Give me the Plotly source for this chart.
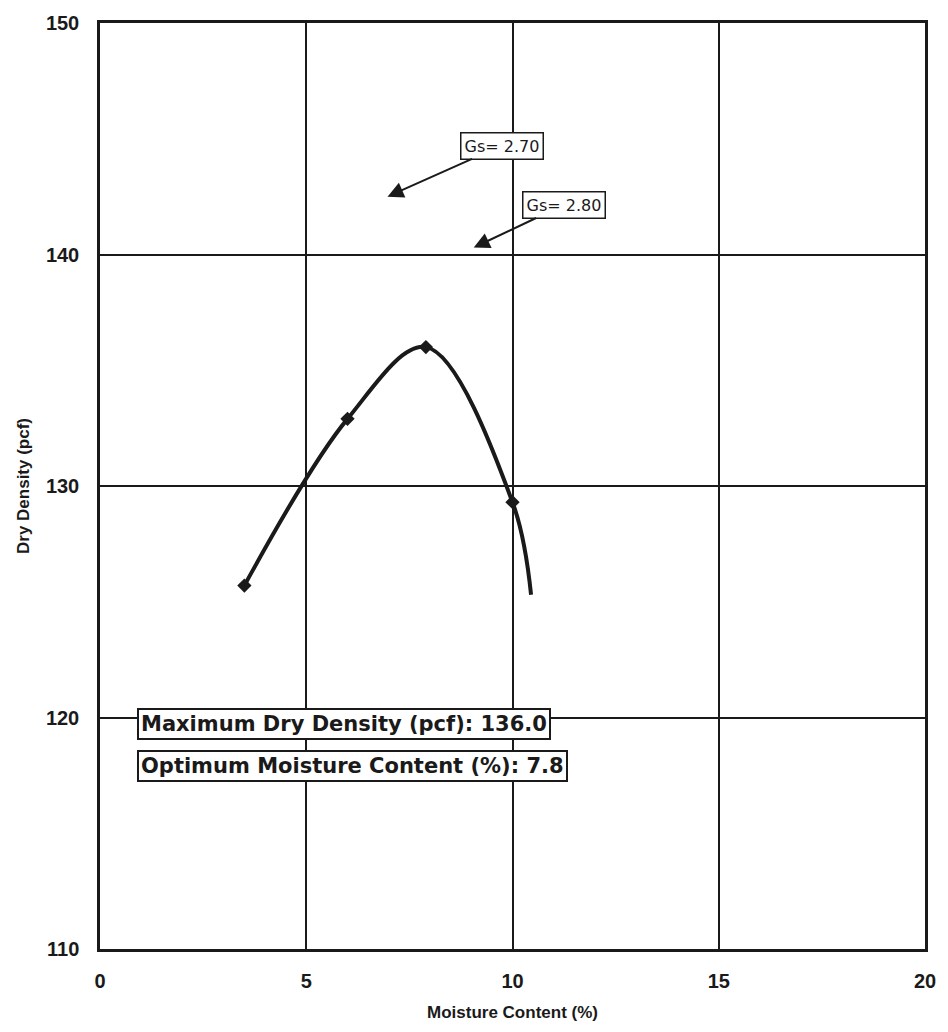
import plotly.graph_objects as go

# Data
pts_x = [3.5, 6.0, 7.9, 10.0]
pts_y = [125.7, 132.9, 136.0, 129.3]
curve_x = [3.5, 6.0, 7.9, 10.0, 10.45]
curve_y = [125.7, 132.9, 136.0, 129.3, 125.3]

x_ticks = [0, 5, 10, 15, 20]
y_ticks = [110, 120, 130, 140, 150]

gs_labels = ["Gs= 2.70", "Gs= 2.80"]
gs_target_x = [6.97, 9.06]
gs_target_y = [142.5, 140.3]
gs_label_x = [9.74, 11.25]
gs_label_y = [144.7, 142.15]

info_lines = ["Maximum Dry Density (pcf): 136.0", "Optimum Moisture Content (%): 7.8"]
info_x = [0.9, 0.9]
info_y = [119.7, 117.9]

FONT = "Liberation Sans, Arial, sans-serif"
WIDE = "DejaVu Sans, Liberation Sans, sans-serif"

fig = go.Figure()
fig.add_trace(go.Scatter(x=curve_x, y=curve_y, mode="lines",
                         line=dict(color="#1a1a1a", width=4, shape="spline", smoothing=1.0),
                         hoverinfo="skip", showlegend=False))
fig.add_trace(go.Scatter(x=pts_x, y=pts_y, mode="markers",
                         marker=dict(symbol="diamond", size=11, color="#1a1a1a"),
                         showlegend=False))

for t, tx, ty, lx, ly in zip(gs_labels, gs_target_x, gs_target_y, gs_label_x, gs_label_y):
    fig.add_annotation(x=tx, y=ty, ax=lx, ay=ly, xref="x", yref="y", axref="x", ayref="y",
                       text=t, showarrow=True, arrowhead=2, arrowsize=1.6, arrowwidth=2,
                       arrowcolor="#1a1a1a",
                       font=dict(family=WIDE, size=16, color="#1a1a1a"),
                       bgcolor="white", bordercolor="#1a1a1a", borderwidth=1.5, borderpad=3)

for t, ix, iy in zip(info_lines, info_x, info_y):
    fig.add_annotation(x=ix, y=iy, xref="x", yref="y", xanchor="left", yanchor="middle",
                       text=t, showarrow=False,
                       font=dict(family=WIDE, size=21, color="#1a1a1a", weight="bold"),
                       bgcolor="white", bordercolor="#1a1a1a", borderwidth=2, borderpad=2)

axis_common = dict(showgrid=True, gridcolor="#1a1a1a", gridwidth=2,
                   showline=True, linecolor="#1a1a1a", linewidth=2.5, mirror=True,
                   zeroline=False, ticks="",
                   tickfont=dict(family=FONT, size=20, color="#1a1a1a", weight="bold"))

fig.update_xaxes(range=[0, 20], tickvals=x_ticks, ticklabelstandoff=12,
                 title=dict(text="Moisture Content (%)", standoff=16,
                            font=dict(family=FONT, size=17, color="#1a1a1a", weight="bold")),
                 **axis_common)
fig.update_yaxes(range=[110, 150], tickvals=y_ticks, ticklabelstandoff=14,
                 title=dict(text="Dry Density (pcf)", standoff=12,
                            font=dict(family=FONT, size=17, color="#1a1a1a", weight="bold")),
                 **axis_common)

fig.update_layout(width=948, height=1032, margin=dict(l=100, r=18, t=20, b=82),
                  plot_bgcolor="white", paper_bgcolor="white")

fig.write_html("out.html")
